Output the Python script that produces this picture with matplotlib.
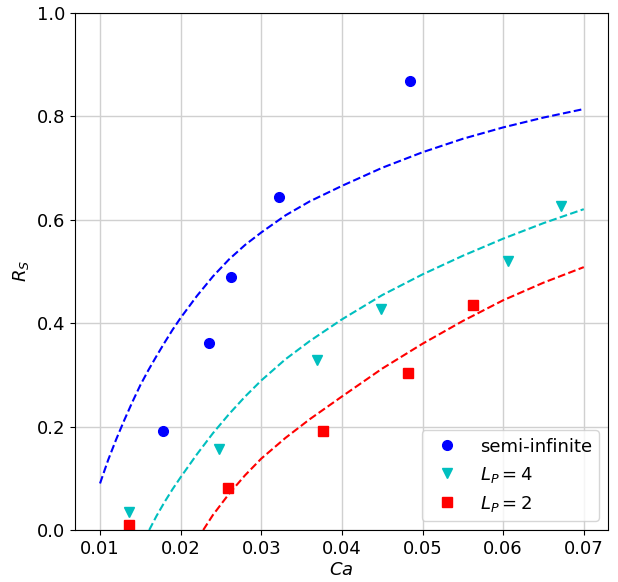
import matplotlib
matplotlib.use("Agg")
import matplotlib.pyplot as plt

# measured points
semi_ca = [0.0178, 0.0235, 0.0262, 0.0322, 0.0484]
semi_rs = [0.191, 0.362, 0.488, 0.644, 0.868]

lp4_ca = [0.0136, 0.0247, 0.0369, 0.0449, 0.0606, 0.0672]
lp4_rs = [0.034, 0.157, 0.329, 0.428, 0.520, 0.626]

lp2_ca = [0.0136, 0.0259, 0.0376, 0.0482, 0.0563]
lp2_rs = [0.010, 0.082, 0.191, 0.303, 0.434]

# model curves
semi_fit_ca = [0.010, 0.011, 0.012, 0.013, 0.014, 0.015, 0.016, 0.017, 0.018,
               0.019, 0.020, 0.022, 0.024, 0.026, 0.028, 0.030, 0.033, 0.036,
               0.040, 0.045, 0.050, 0.055, 0.060, 0.065, 0.070]
semi_fit_rs = [0.090, 0.135, 0.175, 0.212, 0.247, 0.280, 0.309, 0.336, 0.362,
               0.387, 0.410, 0.452, 0.490, 0.523, 0.551, 0.575, 0.608, 0.635,
               0.665, 0.700, 0.730, 0.756, 0.778, 0.797, 0.8135]

lp4_fit_ca = [0.0161, 0.017, 0.018, 0.019, 0.020, 0.022, 0.024, 0.026, 0.028,
              0.030, 0.033, 0.036, 0.040, 0.045, 0.050, 0.055, 0.060, 0.065,
              0.070]
lp4_fit_rs = [0.0, 0.027, 0.054, 0.079, 0.102, 0.146, 0.187, 0.224, 0.258,
              0.289, 0.330, 0.365, 0.407, 0.454, 0.494, 0.530, 0.563, 0.593,
              0.620]

lp2_fit_ca = [0.0228, 0.024, 0.026, 0.028, 0.030, 0.033, 0.036, 0.040, 0.045,
              0.050, 0.055, 0.060, 0.065, 0.070]
lp2_fit_rs = [0.0, 0.029, 0.070, 0.106, 0.138, 0.178, 0.214, 0.258, 0.312,
              0.360, 0.404, 0.444, 0.478, 0.508]

plt.rcParams["font.size"] = 13

fig = plt.figure(figsize=(6.18, 5.82), dpi=100)
ax = fig.add_axes([0.1214, 0.0893, 0.8624, 0.8892])

ax.plot(semi_ca, semi_rs, "bo", markersize=7, label="semi-infinite")
ax.plot(lp4_ca, lp4_rs, "cv", markersize=7.5, label="$L_P = 4$")
ax.plot(lp2_ca, lp2_rs, "rs", markersize=7, label="$L_P = 2$")

ax.plot(semi_fit_ca, semi_fit_rs, "b--", linewidth=1.5)
ax.plot(lp4_fit_ca, lp4_fit_rs, "c--", linewidth=1.5)
ax.plot(lp2_fit_ca, lp2_fit_rs, "r--", linewidth=1.5)

ax.set_xlim(0.0069, 0.073)
ax.set_ylim(0, 1.0)
ax.set_xticks([0.01, 0.02, 0.03, 0.04, 0.05, 0.06, 0.07])
ax.grid(True, color="#d0d0d0", linewidth=1.0)
ax.set_axisbelow(True)

ax.set_xlabel("$Ca$", labelpad=2)
ax.set_ylabel("$R_S$")
ax.legend(loc="lower right")

plt.savefig("out.png", dpi=100)
